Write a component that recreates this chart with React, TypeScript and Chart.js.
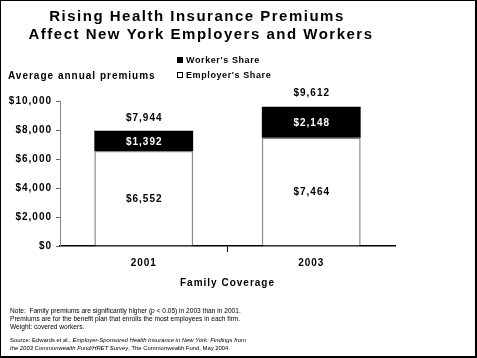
import React, { useEffect, useRef } from "react";
import { Chart, registerables } from "chart.js";

Chart.register(...registerables);

const categories = ["2001", "2003"];
const employerShare = [6552, 7464];
const workerShare = [1392, 2148];
const yTicks = [0, 2000, 4000, 6000, 8000, 10000];
const titleLines = ["Rising Health Insurance Premiums", "Affect New York Employers and Workers"];
const yAxisTitle = "Average annual premiums";
const xAxisTitle = "Family Coverage";
const legendLabels = ["Worker's Share", "Employer's Share"];

const FONT = '"Liberation Sans", Arial, sans-serif';
const fmt = (v: number) => "$" + v.toLocaleString("en-US");

const W = 477;
const H = 358;

export default function App() {
  const ref = useRef<HTMLCanvasElement | null>(null);
  useEffect(() => {
    const canvas = ref.current!;
    const decor = {
      id: "decor",
      beforeDraw(chart: any) {
        const ctx = chart.ctx;
        ctx.save();
        ctx.fillStyle = "#fff";
        ctx.fillRect(0, 0, W, H);
        ctx.restore();
        (ctx as any).letterSpacing = "1px";
      },
      afterDatasetsDraw(chart: any) {
        const ctx = chart.ctx;
        ctx.save();
        (ctx as any).letterSpacing = "1px";
        ctx.font = `bold 10px ${FONT}`;
        ctx.textAlign = "center";
        ctx.textBaseline = "middle";
        const m0 = chart.getDatasetMeta(0);
        const m1 = chart.getDatasetMeta(1);
        categories.forEach((_, i) => {
          const e0 = m0.data[i];
          const e1 = m1.data[i];
          ctx.fillStyle = "#000";
          ctx.fillText(fmt(employerShare[i]), e0.x + 0.5, (e0.y + e0.base) / 2 + 1);
          ctx.fillStyle = "#fff";
          ctx.fillText(fmt(workerShare[i]), e1.x + 0.5, (e1.y + e1.base) / 2 + 1);
          ctx.fillStyle = "#000";
          ctx.fillText(fmt(employerShare[i] + workerShare[i]), e1.x + 0.5, e1.y - 13);
        });
        ctx.restore();
      },
      afterDraw(chart: any) {
        const ctx = chart.ctx;
        const area = chart.chartArea;
        ctx.save();
        ctx.fillStyle = "#000";
        ctx.textBaseline = "middle";
        // title
        ctx.textAlign = "center";
        ctx.font = `bold 15px ${FONT}`;
        (ctx as any).letterSpacing = "1.5px";
        ctx.fillText(titleLines[0], 197, 17);
        ctx.fillText(titleLines[1], 201, 35);
        // y axis title
        ctx.textAlign = "left";
        ctx.font = `bold 10px ${FONT}`;
        (ctx as any).letterSpacing = "1px";
        ctx.fillText(yAxisTitle, 8, 76);
        // x axis title
        ctx.textAlign = "center";
        ctx.fillText(xAxisTitle, (area.left + area.right) / 2, 283);
        // legend
        ctx.textAlign = "left";
        ctx.font = `bold 9px ${FONT}`;
        (ctx as any).letterSpacing = "0.6px";
        ctx.fillRect(177, 57, 6, 6);
        ctx.fillText(legendLabels[0], 186, 60.5);
        ctx.fillStyle = "#fff";
        ctx.fillRect(177.5, 72.5, 5, 5);
        ctx.strokeStyle = "#000";
        ctx.lineWidth = 1;
        ctx.strokeRect(177.5, 72.5, 5, 5);
        ctx.fillStyle = "#000";
        ctx.fillText(legendLabels[1], 186, 75.5);
        // footnotes
        (ctx as any).letterSpacing = "0px";
        ctx.font = `6.6px ${FONT}`;
        ctx.fillText("Note:  Family premiums are significantly higher (p < 0.05) in 2003 than in 2001.", 10, 311);
        ctx.fillText("Premiums are for the benefit plan that enrolls the most employees in each firm.", 10, 319);
        ctx.fillText("Weight: covered workers.", 10, 327);
        const fs = 5.9;
        ctx.font = `${fs}px ${FONT}`;
        const s1 = "Source: Edwards et al., ";
        ctx.fillText(s1, 10, 340);
        const w1 = ctx.measureText(s1).width;
        ctx.font = `italic ${fs}px ${FONT}`;
        ctx.fillText("Employer-Sponsored Health Insurance in New York: Findings from", 10 + w1, 340);
        const s2 = "the 2003 Commonwealth Fund/HRET Survey";
        ctx.fillText(s2, 10, 348);
        const w2 = ctx.measureText(s2).width;
        ctx.font = `${fs}px ${FONT}`;
        ctx.fillText(", The Commonwealth Fund, May 2004.", 10 + w2, 348);
        // frame
        ctx.fillRect(0, 0, W, 1);
        ctx.fillRect(0, 0, 1, H);
        ctx.fillRect(W - 2, 0, 2, H);
        ctx.fillRect(0, H - 2, W, 2);
        ctx.restore();
      },
    };

    const chart = new Chart(canvas, {
      type: "bar",
      data: {
        labels: categories,
        datasets: [
          {
            label: legendLabels[1],
            data: employerShare,
            backgroundColor: "#fff",
            borderColor: "#888",
            borderWidth: 1.5,
            categoryPercentage: 1,
            barPercentage: 0.59,
          },
          {
            label: legendLabels[0],
            data: workerShare,
            backgroundColor: "#000",
            borderColor: "#000",
            borderWidth: 0,
            categoryPercentage: 1,
            barPercentage: 0.59,
          },
        ],
      },
      options: {
        animation: false,
        responsive: false,
        devicePixelRatio: 1,
        layout: { padding: { top: 101, right: 82, left: 0, bottom: 0 } },
        plugins: {
          legend: { display: false },
          title: { display: false },
          tooltip: { enabled: false },
        },
        scales: {
          x: {
            stacked: true,
            grid: {
              display: true,
              drawOnChartArea: false,
              drawTicks: true,
              tickLength: 6,
              tickColor: (c: any) => (c.index === 1 ? "#000" : "rgba(0,0,0,0)"),
              tickWidth: 1,
            },
            border: { display: true, color: "#000", width: 1.5 },
            ticks: {
              color: "#000",
              font: { family: FONT, size: 10, weight: "bold" },
              padding: 5,
            },
            afterFit: (s: any) => {
              s.height = 112;
            },
          },
          y: {
            stacked: true,
            min: 0,
            max: 10000,
            afterBuildTicks: (s: any) => {
              s.ticks = yTicks.map((v) => ({ value: v }));
            },
            grid: {
              display: true,
              drawOnChartArea: false,
              drawTicks: true,
              tickLength: 4,
              tickColor: "#666",
            },
            border: { display: true, color: "#888", width: 1, dash: [1, 1] },
            ticks: {
              color: "#000",
              font: { family: FONT, size: 10, weight: "bold" },
              padding: 4,
              callback: (v: any) => fmt(Number(v)),
            },
            afterFit: (s: any) => {
              s.width = 60;
            },
          },
        },
      },
      plugins: [decor],
    } as any);
    return () => chart.destroy();
  }, []);
  return (
    <div style={{ position: "fixed", left: 0, top: 0, width: W, height: H }}>
      <canvas ref={ref} width={W} height={H} style={{ display: "block", width: W, height: H }} />
    </div>
  );
}
